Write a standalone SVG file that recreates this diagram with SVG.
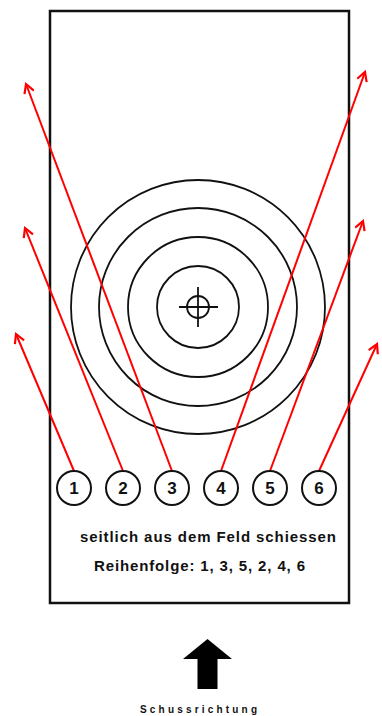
<svg xmlns="http://www.w3.org/2000/svg" width="382" height="716" viewBox="0 0 382 716">
<style>
.ring{fill:none;stroke:#111;stroke-width:1.8}
.num{fill:#fff;stroke:#111;stroke-width:2}
.nt{font-family:"Liberation Sans",Arial,sans-serif;font-weight:bold;font-size:17px;fill:#111;text-anchor:middle}
.lbl{font-family:"Liberation Sans",Arial,sans-serif;font-weight:bold;fill:#111}
.shot{stroke:#f00;stroke-width:2;fill:none;marker-end:url(#ah)}
</style>
<defs>
<marker id="ah" viewBox="0 0 12 12" refX="10" refY="6" markerWidth="12" markerHeight="12" markerUnits="userSpaceOnUse" orient="auto">
<path d="M1,1 L10,6 L1,11" fill="none" stroke="#f00" stroke-width="2.2"/>
</marker>
</defs>
<rect x="50" y="11" width="299" height="592" fill="#fff" stroke="#111" stroke-width="2.5"/>
<g id="target">
<circle class="ring" cx="198" cy="307" r="127"/>
<circle class="ring" cx="198" cy="307" r="99"/>
<circle class="ring" cx="198" cy="307" r="70"/>
<circle class="ring" cx="198" cy="307" r="41"/>
<circle class="ring" cx="198" cy="307" r="11"/>
<line x1="179" y1="307" x2="218" y2="307" stroke="#111" stroke-width="1.8"/>
<line x1="198" y1="287" x2="198" y2="327" stroke="#111" stroke-width="1.8"/>
</g>
<g id="connectors">
<line class="shot" x1="74" y1="471" x2="16" y2="334"/>
<line class="shot" x1="123" y1="471" x2="25" y2="228"/>
<line class="shot" x1="172" y1="471" x2="26" y2="84"/>
<line class="shot" x1="221" y1="471" x2="365" y2="72"/>
<line class="shot" x1="270" y1="471" x2="363" y2="221"/>
<line class="shot" x1="319" y1="471" x2="377" y2="344"/>
</g>
<g id="n1"><circle class="num" cx="74" cy="488" r="17"/><text class="nt" x="74" y="494">1</text></g>
<g id="n2"><circle class="num" cx="123" cy="488" r="17"/><text class="nt" x="123" y="494">2</text></g>
<g id="n3"><circle class="num" cx="172" cy="488" r="17"/><text class="nt" x="172" y="494">3</text></g>
<g id="n4"><circle class="num" cx="221" cy="488" r="17"/><text class="nt" x="221" y="494">4</text></g>
<g id="n5"><circle class="num" cx="270" cy="488" r="17"/><text class="nt" x="270" y="494">5</text></g>
<g id="n6"><circle class="num" cx="319" cy="488" r="17"/><text class="nt" x="319" y="494">6</text></g>
<text class="lbl" x="80" y="542" font-size="15" textLength="256" lengthAdjust="spacing">seitlich aus dem Feld schiessen</text>
<text class="lbl" x="94" y="571" font-size="15" textLength="211" lengthAdjust="spacing">Reihenfolge: 1, 3, 5, 2, 4, 6</text>
<g id="direction">
<polygon points="207.5,639 183,659 197.5,659 197.5,689 217.5,689 217.5,659 232,659" fill="#000"/>
<text class="lbl" x="140" y="713" font-size="10" textLength="117" lengthAdjust="spacing">Schussrichtung</text>
</g>
</svg>
